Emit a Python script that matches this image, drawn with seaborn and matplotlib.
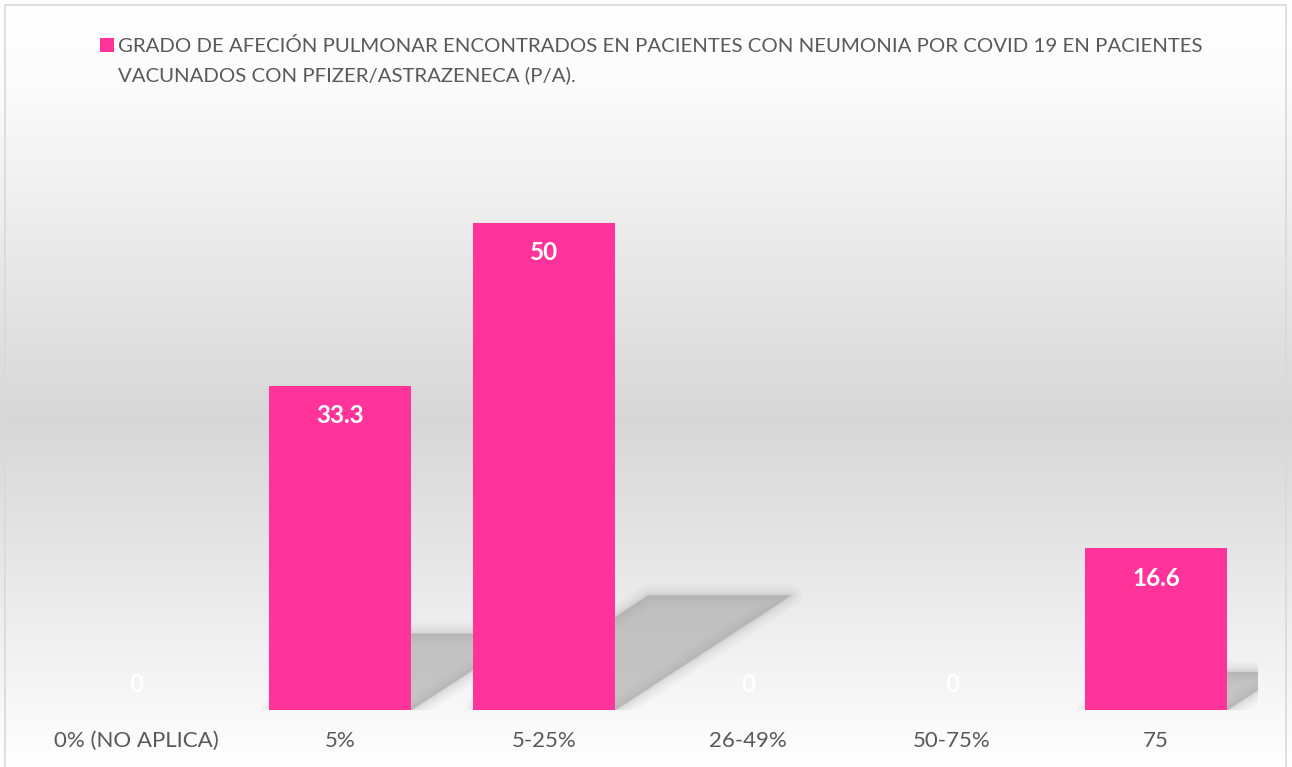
import numpy as np
import matplotlib
matplotlib.use("Agg")
import matplotlib.pyplot as plt
from matplotlib.patches import Polygon, Rectangle
import seaborn as sns

# data
categories = ["0% (NO APLICA)", "5%", "5-25%", "26-49%", "50-75%", "75"]
values = [0, 33.3, 50, 0, 0, 16.6]
legend_lines = ["GRADO DE AFECIÓN PULMONAR ENCONTRADOS EN PACIENTES CON NEUMONIA POR COVID 19 EN PACIENTES",
                "VACUNADOS CON PFIZER/ASTRAZENECA (P/A)."]

PINK = "#ff3399"
TXT = "#595959"

sns.set_theme(style="white")
plt.rcParams["font.family"] = ["Lato", "DejaVu Sans"]

W, H = 1292, 767
fig = plt.figure(figsize=(W / 100, H / 100), dpi=100)

# background gradient (white -> gray -> white) over the chart area
bg = fig.add_axes([0, 0, 1, 1], zorder=-5)
rows = np.arange(H)
stops_y = [0, 90, 420, 745, H]
stops_c = [255, 251, 215, 252, 255]
col = np.interp(rows, stops_y, stops_c) / 255.0
grad = np.repeat(col[:, None], 4, axis=1)
bg.imshow(np.dstack([grad, grad, grad]), aspect="auto", extent=[0, 1, 0, 1], origin="upper")
bg.set_xlim(0, 1)
bg.set_ylim(0, 1)
bg.axis("off")
bg.add_patch(Rectangle((5 / W, -0.01), 1281 / W, 1 - 5 / H + 0.01, fill=False,
                       edgecolor="#d9d9d9", linewidth=1.2, transform=bg.transAxes))

ax = fig.add_axes([34 / W, 57 / H, 1224 / W, 584.4 / H])
ax.set_facecolor("none")

sns.barplot(x=categories, y=values, color=PINK, saturation=1, width=0.7, ax=ax,
            linewidth=0, edgecolor=PINK, zorder=3)
ax.set_ylim(0, 60)
ax.set_xlim(-0.5, len(categories) - 0.5)

# soft perspective shadows behind bars
for p in ax.patches:
    h = p.get_height()
    if h <= 0:
        continue
    x0 = p.get_x()
    x1 = x0 + p.get_width()
    dx = 0.0172 * h
    top = 0.235 * h
    for lw, a in [(16, 0.06), (11, 0.08), (6, 0.12), (2, 0.18), (0, 0.3)]:
        poly = Polygon([(x0 + 0.02, 0), (x1, 0), (x1 + dx, top), (x0 + dx, top)], closed=True,
                       facecolor="#a0a0a0", edgecolor="#a0a0a0", linewidth=lw,
                       alpha=a, zorder=1, joinstyle="round")
        ax.add_patch(poly)

# data labels
for i, v in enumerate(values):
    off = -30 if v > 0 else 25
    ax.annotate(f"{v:g}", (i, v), xytext=(0, off), textcoords="offset pixels",
                ha="center", va="center", color="white", fontsize=17.5, fontweight="bold", zorder=5)

sns.despine(ax=ax, left=True, bottom=True)
ax.set_yticks([])
ax.tick_params(axis="x", length=0, pad=15, labelsize=16, labelcolor=TXT)
ax.set_xlabel("")
ax.set_ylabel("")

# legend (series name, wraps over two lines)
fig.patches.append(Rectangle((100 / W, 1 - 52 / H), 14 / W, 14 / H, transform=fig.transFigure,
                             facecolor=PINK, edgecolor="none"))
for k, line in enumerate(legend_lines):
    fig.text(118 / W, 1 - (46 + 29 * k) / H, line, ha="left", va="center",
             fontsize=14.7, color=TXT)

fig.savefig("out.png", dpi=100)
